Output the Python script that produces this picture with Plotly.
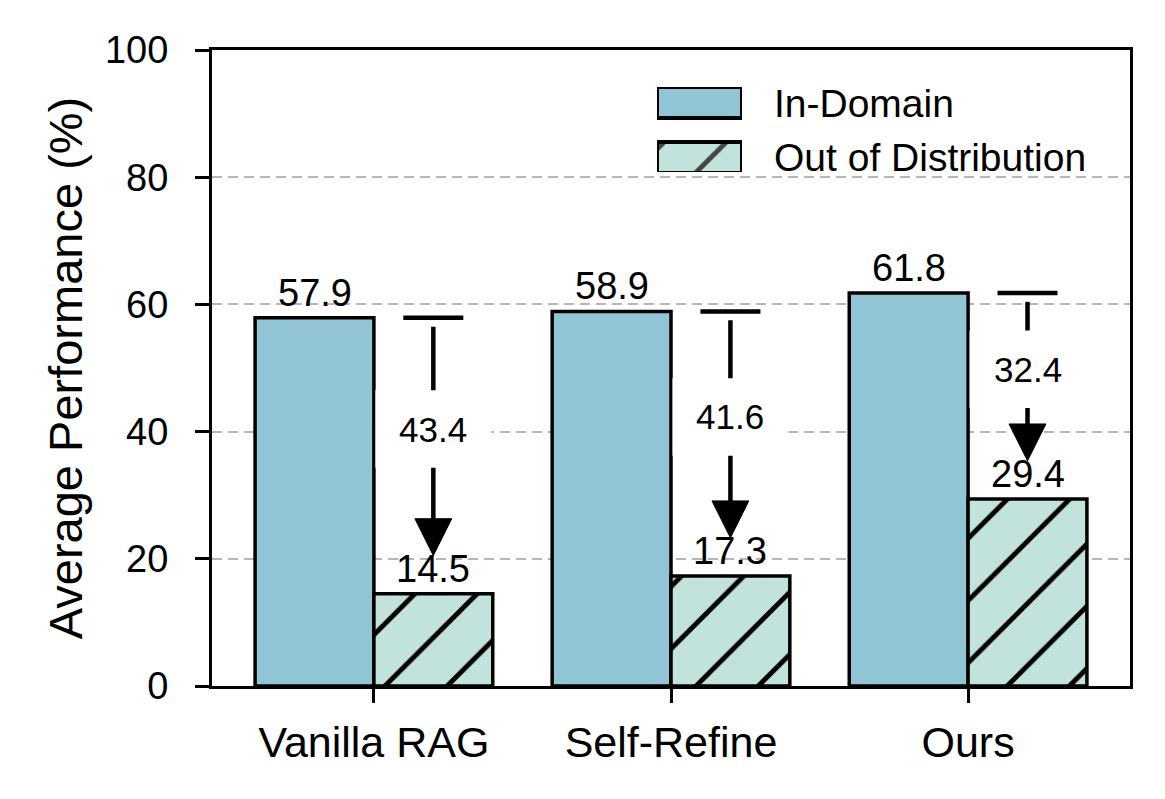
import plotly.graph_objects as go

categories = ["Vanilla RAG", "Self-Refine", "Ours"]
in_domain = [57.9, 58.9, 61.8]
out_of_dist = [14.5, 17.3, 29.4]
y_ticks = [0, 20, 40, 60, 80, 100]
series_names = ["In-Domain", "Out of Distribution"]

ID_COLOR = "#91C4D5"
OOD_COLOR = "#C2E2DC"
FONT = "Liberation Sans, Arial, sans-serif"

xs = list(range(len(categories)))
BW = 0.4
OUT = 3.5
HATCH = dict(fgcolor="black", fgopacity=1, size=44, solidity=0.11)

fig = go.Figure()
fig.add_trace(go.Bar(
    x=xs, y=in_domain, name=series_names[0], showlegend=False,
    marker=dict(color=ID_COLOR, line=dict(color="black", width=OUT)),
))
fig.add_trace(go.Bar(
    x=xs, y=out_of_dist, name=series_names[1], showlegend=False,
    marker=dict(color=OOD_COLOR, line=dict(color="black", width=OUT),
                pattern=dict(shape="/", bgcolor=OOD_COLOR, **HATCH)),
))

# custom legend swatches on overlay axes
fig.add_trace(go.Bar(
    x=[1, 1], y=[1, 0], orientation="h", width=0.56, showlegend=False,
    xaxis="x2", yaxis="y2", hoverinfo="skip",
    marker=dict(color=[ID_COLOR, OOD_COLOR], line=dict(color="black", width=4),
                pattern=dict(shape=["", "/"], bgcolor=[ID_COLOR, OOD_COLOR], **HATCH)),
))

shapes = []
annotations = []
LW = 4.5
for i, (a, b) in enumerate(zip(in_domain, out_of_dist)):
    xi = i - BW / 2
    xo = i + BW / 2
    # value labels
    annotations.append(dict(x=xi, y=a, text=f"{a:.1f}", showarrow=False, xref="x", yref="y",
                            yanchor="bottom", yshift=2, font=dict(size=38, family=FONT, color="black")))
    annotations.append(dict(x=xo, y=b, text=f"{b:.1f}", showarrow=False, xref="x", yref="y",
                            yanchor="bottom", yshift=2, font=dict(size=38, family=FONT, color="black")))
    tip = b + 6.0
    head_h = 5.8
    head_hw = 0.062
    # top bar
    shapes.append(dict(type="line", xref="x", yref="y", x0=xo - 0.101, x1=xo + 0.101, y0=a, y1=a,
                       line=dict(color="black", width=LW)))
    # shaft
    shapes.append(dict(type="line", xref="x", yref="y", x0=xo, x1=xo, y0=a - 1.4, y1=tip + head_h,
                       line=dict(color="black", width=LW)))
    # head
    shapes.append(dict(type="path", xref="x", yref="y",
                       path=f"M{xo - head_hw},{tip + head_h} L{xo + head_hw},{tip + head_h} L{xo},{tip} Z",
                       fillcolor="black", line=dict(color="black", width=1)))
    # white label box
    lc = (a + b) / 2 + 4.2
    shapes.append(dict(type="rect", xref="x", yref="y", x0=xo - 0.195, x1=xo + 0.195,
                       y0=lc - 6.1, y1=lc + 6.1, fillcolor="white", line=dict(width=0)))
    annotations.append(dict(x=xo, y=lc, text=f"{a - b:.1f}", showarrow=False, xref="x", yref="y",
                            yanchor="middle", font=dict(size=35, family=FONT, color="black")))

# legend texts
annotations.append(dict(x=(772 - 212) / 918, y=(686 - 103) / 636, xref="paper", yref="paper",
                        text=series_names[0], showarrow=False, xanchor="left", yanchor="middle",
                        font=dict(size=39, family=FONT, color="black")))
annotations.append(dict(x=(772 - 212) / 918, y=(686 - 158) / 636, xref="paper", yref="paper",
                        text=series_names[1], showarrow=False, xanchor="left", yanchor="middle",
                        font=dict(size=39, family=FONT, color="black")))

fig.update_layout(
    width=1157, height=791,
    margin=dict(l=204, r=35, t=42, b=113),
    paper_bgcolor="white", plot_bgcolor="white",
    barmode="group", bargap=0.2, bargroupgap=0,
    font=dict(family=FONT, color="black"),
    shapes=shapes, annotations=annotations,
    xaxis=dict(range=[-0.545, 2.545], tickvals=xs, ticktext=categories,
               showgrid=False, zeroline=False, showline=True, linecolor="black", linewidth=3,
               mirror=True, ticks="outside", ticklen=14, tickwidth=3, tickcolor="black",
               ticklabelstandoff=2,
               tickfont=dict(size=43, family=FONT, color="black")),
    yaxis=dict(range=[0, 100], tickvals=y_ticks,
               showgrid=True, gridcolor="#b5b5b5", gridwidth=1.6, griddash="10px,6px",
               zeroline=False, showline=True, linecolor="black", linewidth=3,
               mirror=True, ticks="outside", ticklen=14, tickwidth=3, tickcolor="black",
               tickfont=dict(size=38, family=FONT, color="black"),
               ticklabelstandoff=19,
               title=dict(text="Average Performance (%)", font=dict(size=47, family=FONT, color="black"),
                          standoff=8)),
    xaxis2=dict(domain=[(657 - 212) / 918, (742 - 212) / 918], range=[0, 1], visible=False,
                anchor="y2", fixedrange=True),
    yaxis2=dict(domain=[(686 - 172) / 636, (686 - 87) / 636], range=[-0.264, 1.282], visible=False,
                anchor="x2", fixedrange=True),
)

fig.write_html("out.html")
